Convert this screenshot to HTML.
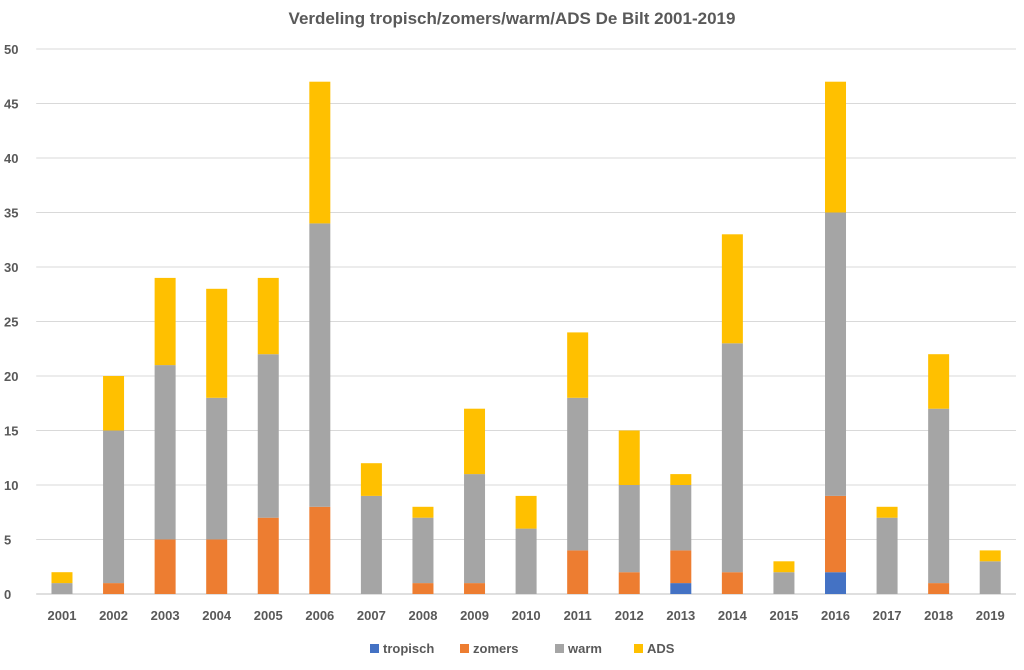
<!DOCTYPE html>
<html><head><meta charset="utf-8"><style>
body{margin:0;background:#fff;font-family:"Liberation Sans",sans-serif}
</style></head><body>
<svg id="chart" width="1024" height="665" xmlns="http://www.w3.org/2000/svg">
<rect width="1024" height="665" fill="#fff"/>
<text x="512" y="24" text-anchor="middle" font-size="17" font-weight="bold" fill="#595959" font-family="Liberation Sans, sans-serif">Verdeling tropisch/zomers/warm/ADS De Bilt 2001-2019</text>
<g id="grid"></g><g id="bars"></g><g id="axes"></g><g id="legend"></g>
</svg>
<script>
const categories=["2001","2002","2003","2004","2005","2006","2007","2008","2009","2010","2011","2012","2013","2014","2015","2016","2017","2018","2019"];
const tropisch=[0,0,0,0,0,0,0,0,0,0,0,0,1,0,0,2,0,0,0];
const zomers=[0,1,5,5,7,8,0,1,1,0,4,2,3,2,0,7,0,1,0];
const warm=[1,14,16,13,15,26,9,6,10,6,14,8,6,21,2,26,7,16,3];
const ads=[1,5,8,10,7,13,3,1,6,3,6,5,1,10,1,12,1,5,1];
const yTicks=[0,5,10,15,20,25,30,35,40,45,50];
const seriesNames=["tropisch","zomers","warm","ADS"];
const colors=["#4472C4","#ED7D31","#A5A5A5","#FFC000"];
const NS="http://www.w3.org/2000/svg";
const x0=36.2,x1=1016,y0=594,yTop=49;
const band=(x1-x0)/categories.length;
const bw=21;
const xc=i=>x0+band*(i+0.5);
const y=v=>y0-(v/50)*(y0-yTop);
function mk(tag,attrs,parent){const e=document.createElementNS(NS,tag);for(const k in attrs)e.setAttribute(k,attrs[k]);parent.appendChild(e);return e;}
const grid=document.getElementById('grid'),bars=document.getElementById('bars'),axes=document.getElementById('axes'),legend=document.getElementById('legend');
yTicks.forEach(t=>{
  const l=mk('line',{x1:x0,x2:x1,y1:y(t),y2:y(t),stroke:t===0?'#BFBFBF':'#D9D9D9','stroke-width':1},grid);
  
  
  const tx=mk('text',{x:4,y:y(t)+5,'text-anchor':'start','font-size':13,'font-weight':'bold',fill:'#595959'},axes);
  tx.textContent=t;
  
  
});
const series=[tropisch,zomers,warm,ads];
categories.forEach((c,i)=>{
  let base=0;
  series.forEach((s,k)=>{
    const v=s[i];
    if(v>0){
      const r=mk('rect',{x:xc(i)-bw/2,width:bw,y:y(base+v),height:y(base)-y(base+v),fill:colors[k]},bars);
      
      
    }
    base+=v;
  });
  const tx=mk('text',{x:xc(i),y:620,'text-anchor':'middle','font-size':13,'font-weight':'bold',fill:'#595959'},axes);
  tx.textContent=c;
  
  
});
const lx=[370,460,555,634];
seriesNames.forEach((n,k)=>{
  const g=mk('g',{},legend);
  
  
  mk('rect',{x:lx[k],y:644,width:9,height:9,fill:colors[k]},g);
  const t=mk('text',{x:lx[k]+13,y:653,'font-size':13,'font-weight':'bold',fill:'#595959'},g);
  t.textContent=n;
});
</script>
</body></html>
